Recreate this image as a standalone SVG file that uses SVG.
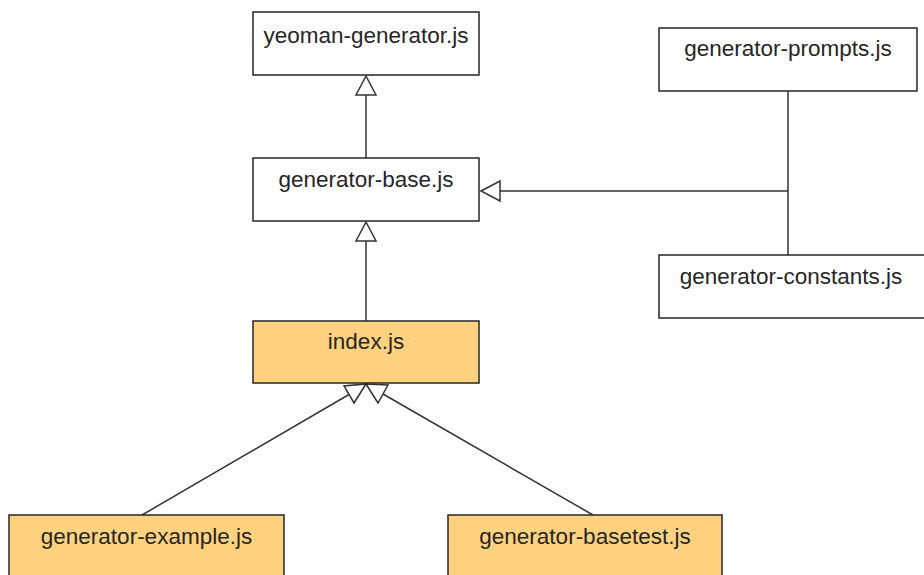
<svg xmlns="http://www.w3.org/2000/svg" width="924" height="575" viewBox="0 0 924 575">
<style>
.box{fill:#ffffff;stroke:#262626;stroke-width:1.5}
.hl{fill:#fed27f}
.t{font-family:"Liberation Sans",Arial,sans-serif;font-size:22.5px;fill:#262626;text-anchor:middle}
.ln{stroke:#333;stroke-width:1.5;fill:none}
.ah{fill:#fff;stroke:#333;stroke-width:1.5;stroke-linejoin:miter}
</style>
<rect width="924" height="575" fill="#fff"/>
<g id="connectors">
<line class="ln" x1="366" y1="158" x2="366" y2="95"/>
<polygon class="ah" points="366,76 356,95 376,95"/>
<line class="ln" x1="366" y1="321" x2="366" y2="241"/>
<polygon class="ah" points="366,222 356,241 376,241"/>
<line class="ln" x1="788" y1="91" x2="788" y2="255"/>
<line class="ln" x1="788" y1="191" x2="500" y2="191"/>
<polygon class="ah" points="481,191 500,181 500,201"/>
<line class="ln" x1="142" y1="515" x2="349" y2="394.5"/>
<polygon class="ah" points="366,384 354,403 344,386"/>
<line class="ln" x1="593" y1="515" x2="383" y2="394"/>
<polygon class="ah" points="366,384 378,403 388,385"/>
</g>
<g id="yeoman-generator">
<rect class="box" x="253" y="12" width="226" height="63"/>
<text class="t" x="366" y="43">yeoman-generator.js</text>
</g>
<g id="generator-base">
<rect class="box" x="253" y="158" width="226" height="63"/>
<text class="t" x="366" y="187">generator-base.js</text>
</g>
<g id="index">
<rect class="box hl" x="253" y="321" width="226" height="62"/>
<text class="t" x="366" y="349">index.js</text>
</g>
<g id="generator-prompts">
<rect class="box" x="659" y="28" width="258" height="63"/>
<text class="t" x="788" y="56">generator-prompts.js</text>
</g>
<g id="generator-constants">
<rect class="box" x="659" y="255" width="280" height="63"/>
<text class="t" x="791" y="284">generator-constants.js</text>
</g>
<g id="generator-example">
<rect class="box hl" x="9" y="515" width="275" height="70"/>
<text class="t" x="146.5" y="544">generator-example.js</text>
</g>
<g id="generator-basetest">
<rect class="box hl" x="448" y="515" width="274" height="70"/>
<text class="t" x="585" y="544">generator-basetest.js</text>
</g>
</svg>
